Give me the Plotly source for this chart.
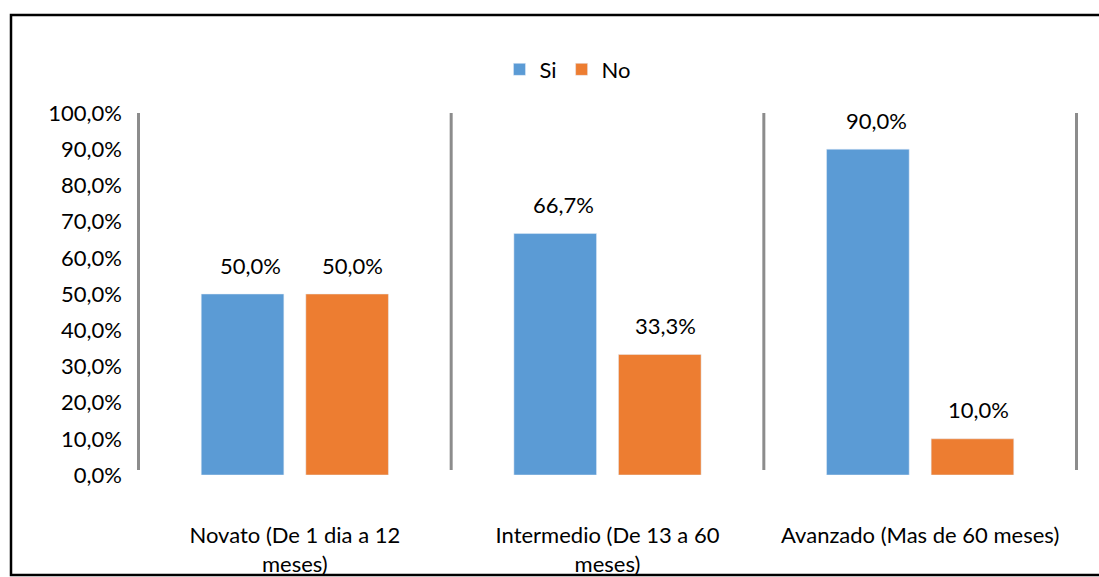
import plotly.graph_objects as go

categories = ["Novato (De 1 dia a 12<br>meses)", "Intermedio (De 13 a 60<br>meses)", "Avanzado (Mas de 60 meses)"]
si_values = [50.0, 66.7, 90.0]
no_values = [50.0, 33.3, 10.0]
y_ticks = [0, 10, 20, 30, 40, 50, 60, 70, 80, 90, 100]

BLUE = "#5B9BD5"
ORANGE = "#ED7D31"
FONT = "Lato, 'Open Sans', sans-serif"


def fmt(v):
    return f"{v:.1f}".replace(".", ",") + "%"


fig = go.Figure()
fig.add_trace(go.Bar(name="Si", x=categories, y=si_values, marker_color=BLUE))
fig.add_trace(go.Bar(name="No", x=categories, y=no_values, marker_color=ORANGE))

annotations = []
for cat, v in zip(categories, si_values):
    annotations.append(dict(x=cat, y=v, xref="x", yref="y", text=fmt(v), showarrow=False,
                            xshift=-52 + 8, yshift=29, font=dict(size=22, color="black", family=FONT)))
for cat, v in zip(categories, no_values):
    annotations.append(dict(x=cat, y=v, xref="x", yref="y", text=fmt(v), showarrow=False,
                            xshift=52 + 6, yshift=29, font=dict(size=22, color="black", family=FONT)))

shapes = []
for b in [-0.5, 0.5, 1.5, 2.5]:
    shapes.append(dict(type="line", xref="x", yref="y", x0=b, x1=b, y0=1.4, y1=100.5,
                       line=dict(color="#8c8c8c", width=3)))
# outer frame
shapes.append(dict(type="rect", xref="paper", yref="paper", x0=-0.1339, x1=1.08, y0=-0.276, y1=1.2707,
                   line=dict(color="black", width=2.5), layer="below"))

fig.update_layout(
    width=1099, height=577,
    margin=dict(l=137, r=21, t=113, b=102, autoexpand=False),
    paper_bgcolor="white", plot_bgcolor="white",
    separators=",.",
    font=dict(family=FONT, size=22, color="black"),
    barmode="group", bargap=0.331, bargroupgap=0.21,
    showlegend=True,
    legend=dict(orientation="h", x=0.458, xanchor="center", y=1.12, yanchor="middle",
                font=dict(size=22, color="black", family=FONT), itemwidth=30, bgcolor="rgba(0,0,0,0)"),
    annotations=annotations,
    shapes=shapes,
)
fig.update_xaxes(showline=False, showgrid=False, ticks="", ticklabelstandoff=45,
                 tickfont=dict(size=22, color="black", family=FONT))
fig.update_yaxes(range=[0, 100], tickvals=y_ticks, ticktext=[fmt(t) for t in y_ticks],
                 showgrid=False, zeroline=False, showline=False, ticks="", ticklabelstandoff=14,
                 tickfont=dict(size=22, color="black", family=FONT))

fig.write_html("out.html", config={"displayModeBar": False},
               post_script="document.body.style.margin='0';document.body.style.overflow='hidden';")
